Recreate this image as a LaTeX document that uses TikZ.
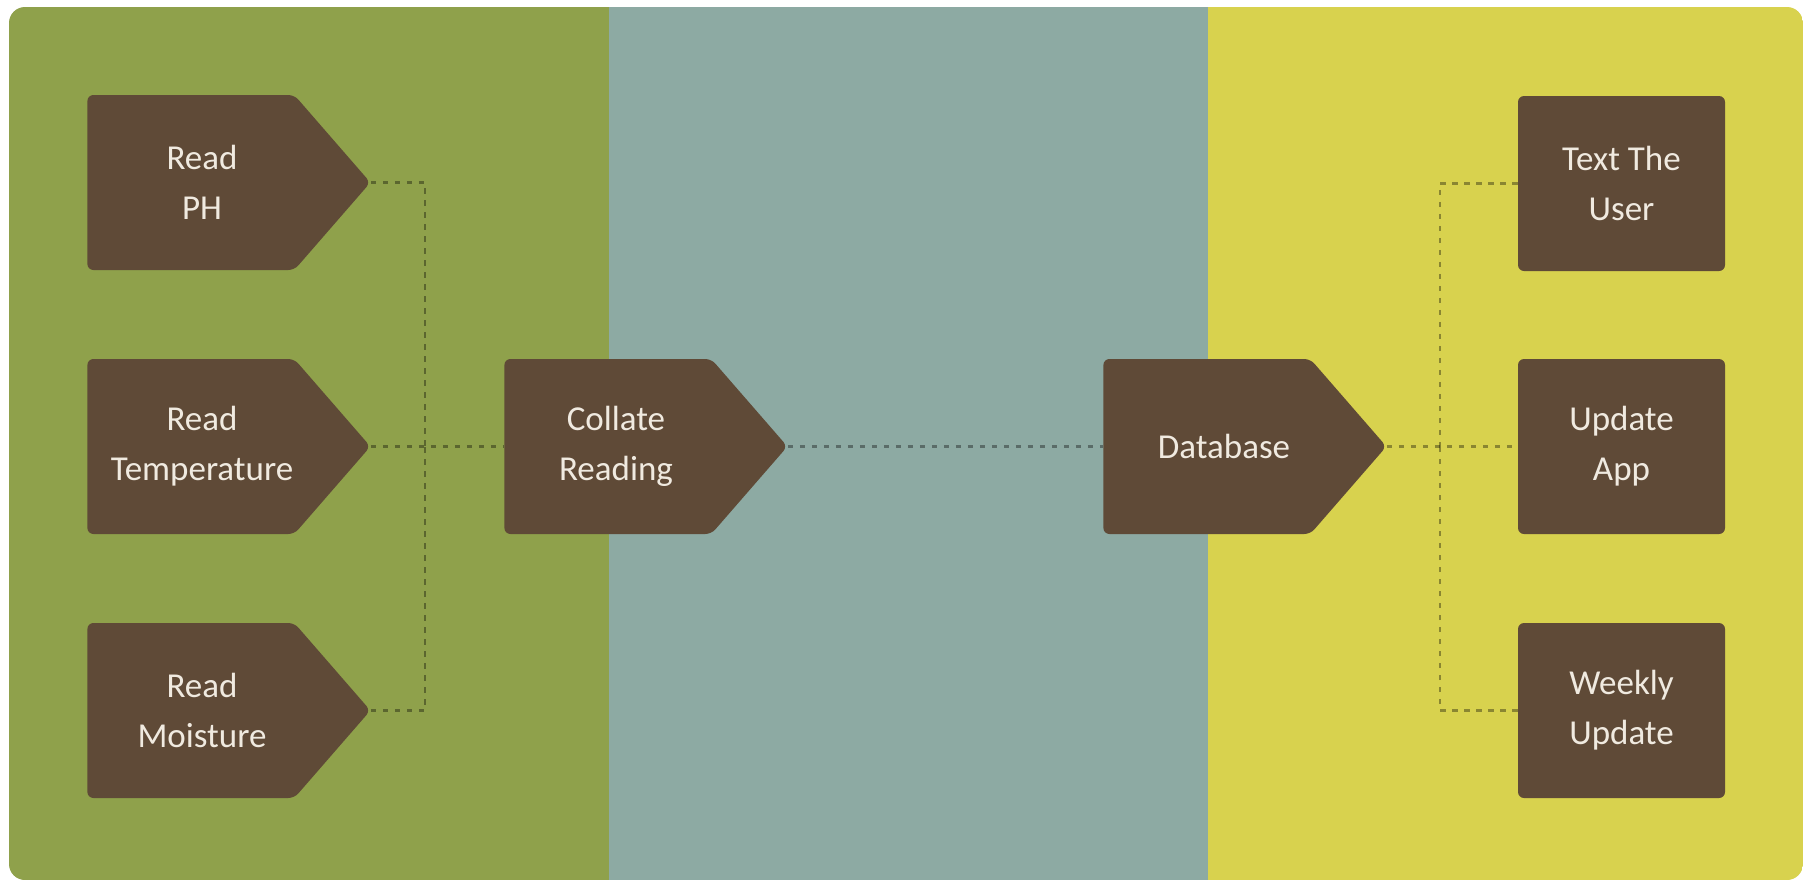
\documentclass[tikz,border=0pt]{standalone}
\usepackage{fontspec}
\setmainfont{Carlito}
\usetikzlibrary{shapes.symbols}

\definecolor{panelgreen}{HTML}{8FA14B}
\definecolor{panelteal}{HTML}{8DAAA3}
\definecolor{panelyellow}{HTML}{D8D24E}
\definecolor{barkbrown}{HTML}{5F4A37}
\definecolor{chalk}{HTML}{F0EAE0}

\tikzset{
  boxtext/.style={text=chalk, align=center, inner sep=0pt,
    font=\fontsize{17.5}{25}\selectfont},
  tagbox/.style={shape=signal, signal to=east, signal pointer angle=98,
    fill=barkbrown, rounded corners=3pt, inner sep=0pt,
    minimum width=141.5pt, minimum height=87.5pt},
  squarebox/.style={rectangle, fill=barkbrown, rounded corners=3pt, inner sep=0pt,
    minimum width=103.5pt, minimum height=87.5pt, boxtext},
  link/.style={draw=black, draw opacity=0.36, line width=1.4pt, dash pattern=on 2.6pt off 3.4pt}
}

\begin{document}
\begin{tikzpicture}[x=0.5pt, y=-0.5pt]
  \useasboundingbox (0,0) rectangle (1812,885);
  \fill[white] (0,0) rectangle (1812,885);

  % three coloured lanes inside a rounded frame
  \begin{scope}
    \clip[rounded corners=8pt] (9,7) rectangle (1803,880);
    \fill[panelgreen]  (9,7)    rectangle (609,880);
    \fill[panelteal]   (609,7)  rectangle (1208,880);
    \fill[panelyellow] (1208,7) rectangle (1803,880);
  \end{scope}

  % sensor readings
  \node[tagbox, anchor=west] (ph)    at (87,182.5) {};
  \node[tagbox, anchor=west] (temp)  at (87,446.5) {};
  \node[tagbox, anchor=west] (moist) at (87,710.5) {};
  \node[boxtext] (ph-text)    at ([xshift=57.5pt]ph.west)    {Read\\PH};
  \node[boxtext] (temp-text)  at ([xshift=57.5pt]temp.west)  {Read\\Temperature};
  \node[boxtext] (moist-text) at ([xshift=57.5pt]moist.west) {Read\\Moisture};

  % processing
  \node[tagbox, anchor=west] (collate) at (504,446.5) {};
  \node[tagbox, anchor=west] (db)      at (1103,446.5) {};
  \node[boxtext] (collate-text) at ([xshift=56pt]collate.west) {Collate\\Reading};
  \node[boxtext] (db-text)      at ([xshift=60.5pt]db.west)    {Database};

  % outputs
  \node[squarebox] (sms)    at (1621.5,183.5) {Text The\\User};
  \node[squarebox] (app)    at (1621.5,446.5) {Update\\App};
  \node[squarebox] (weekly) at (1621.5,710.5) {Weekly\\Update};

  % connectors
  \coordinate (joinL) at (425,446.5);
  \coordinate (joinR) at (1440,446.5);
  \draw[link] (ph.east) -| (joinL);
  \draw[link] (moist.east) -| (joinL);
  \draw[link] (temp.east) -- (collate.west);
  \draw[link] (collate.east) -- (db.west);
  \draw[link] (db.east) -- (app.west);
  \draw[link] (sms.west) -| (joinR);
  \draw[link] (weekly.west) -| (joinR);
\end{tikzpicture}
\end{document}
